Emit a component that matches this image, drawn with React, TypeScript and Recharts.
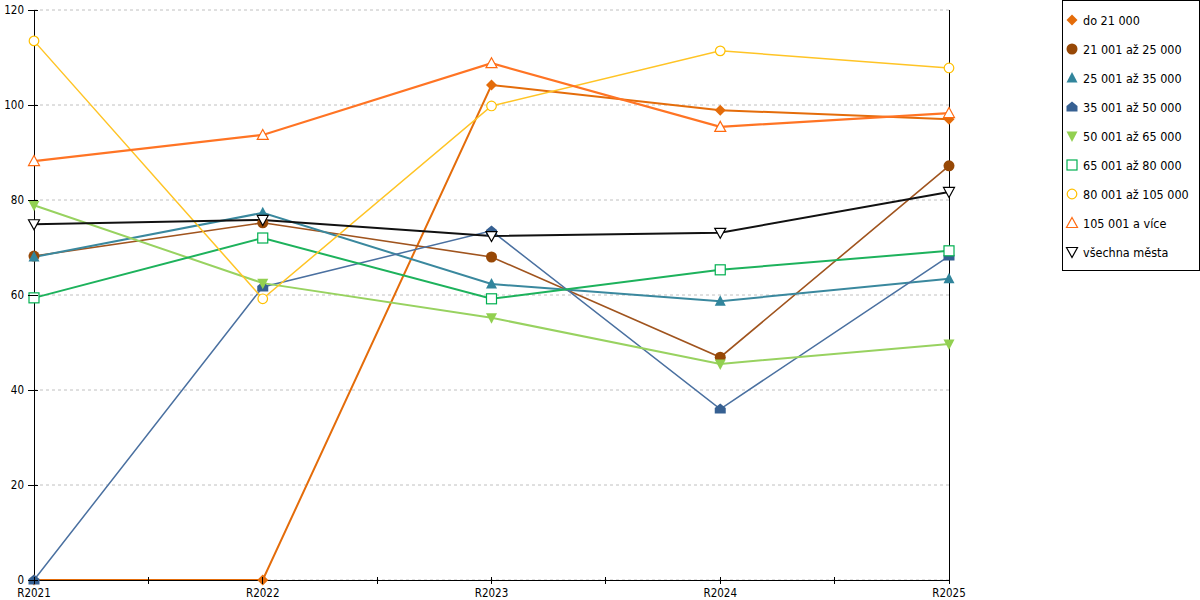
import React from 'react';
import { LineChart, Line, XAxis, YAxis, CartesianGrid } from 'recharts';

const categories = ['R2021', 'R2022', 'R2023', 'R2024', 'R2025'];
const yTicks = [0, 20, 40, 60, 80, 100, 120];

const do21 = [0, 0, 104.2, 98.9, 97.0];
const s21to25 = [68.2, 75.2, 68.0, 46.9, 87.2];
const s25to35 = [68.0, 77.3, 62.3, 58.7, 63.4];
const s35to50 = [0, 61.7, 73.5, 36.0, 68.2];
const s50to65 = [78.9, 62.5, 55.2, 45.5, 49.7];
const s65to80 = [59.4, 72.0, 59.2, 65.3, 69.3];
const s80to105 = [113.5, 59.2, 99.8, 111.4, 107.8];
const s105plus = [88.2, 93.7, 108.8, 95.4, 98.3];
const allCities = [74.9, 75.8, 72.4, 73.1, 81.7];

const seriesNames = [
  'do 21 000',
  '21 001 až 25 000',
  '25 001 až 35 000',
  '35 001 až 50 000',
  '50 001 až 65 000',
  '65 001 až 80 000',
  '80 001 až 105 000',
  '105 001 a více',
  'všechna města',
];
const seriesValues = [do21, s21to25, s25to35, s35to50, s50to65, s65to80, s80to105, s105plus, allCities];

type Shape = 'diamond' | 'circle' | 'triangle' | 'house' | 'down' | 'square' | 'ocircle' | 'otriangle' | 'odown';
const styles: { line: string; mark: string; shape: Shape; width: number }[] = [
  { line: '#E46C0A', mark: '#E46C0A', shape: 'diamond', width: 2 },
  { line: '#A0541E', mark: '#974806', shape: 'circle', width: 1.6 },
  { line: '#3A889E', mark: '#31859C', shape: 'triangle', width: 2 },
  { line: '#4A70A0', mark: '#366092', shape: 'house', width: 1.5 },
  { line: '#98D260', mark: '#92D050', shape: 'down', width: 2 },
  { line: '#1DB25C', mark: '#00B050', shape: 'square', width: 2 },
  { line: '#FFC425', mark: '#FFC000', shape: 'ocircle', width: 1.5 },
  { line: '#FF7424', mark: '#FF6A10', shape: 'otriangle', width: 2.2 },
  { line: '#111111', mark: '#000000', shape: 'odown', width: 2 },
];

const data = categories.map((c, i) => {
  const row: Record<string, number | string> = { idx: i, cat: c };
  seriesNames.forEach((n, k) => {
    row['s' + k] = seriesValues[k][i];
  });
  return row;
});

const xTicks = categories.flatMap((_, i) => (i < categories.length - 1 ? [i, i + 0.5] : [i]));

function Marker({ shape, color, cx, cy }: { shape: Shape; color: string; cx: number; cy: number }) {
  switch (shape) {
    case 'diamond':
      return <polygon points={`${cx},${cy - 5.5} ${cx + 5.5},${cy} ${cx},${cy + 5.5} ${cx - 5.5},${cy}`} fill={color} />;
    case 'circle':
      return <circle cx={cx} cy={cy} r={5.5} fill={color} />;
    case 'triangle':
      return <polygon points={`${cx},${cy - 6} ${cx + 5.5},${cy + 4.5} ${cx - 5.5},${cy + 4.5}`} fill={color} />;
    case 'house':
      return (
        <polygon
          points={`${cx},${cy - 5.5} ${cx + 5.5},${cy - 1} ${cx + 5.5},${cy + 4.5} ${cx - 5.5},${cy + 4.5} ${cx - 5.5},${cy - 1}`}
          fill={color}
        />
      );
    case 'down':
      return <polygon points={`${cx - 5.5},${cy - 4.5} ${cx + 5.5},${cy - 4.5} ${cx},${cy + 6}`} fill={color} />;
    case 'square':
      return <rect x={cx - 5} y={cy - 5} width={10} height={10} fill="#fff" stroke={color} strokeWidth={1.2} />;
    case 'ocircle':
      return <circle cx={cx} cy={cy} r={4.8} fill="#fff" stroke={color} strokeWidth={1.2} />;
    case 'otriangle':
      return (
        <polygon
          points={`${cx},${cy - 5.5} ${cx + 5.5},${cy + 4.5} ${cx - 5.5},${cy + 4.5}`}
          fill="#fff"
          stroke={color}
          strokeWidth={1.2}
        />
      );
    case 'odown':
      return (
        <polygon
          points={`${cx - 5.5},${cy - 4.5} ${cx + 5.5},${cy - 4.5} ${cx},${cy + 5.5}`}
          fill="#fff"
          stroke={color}
          strokeWidth={1.2}
        />
      );
  }
  return null;
}

const FONT = '"DejaVu Sans Condensed", "DejaVu Sans", Verdana, sans-serif';

function XTick(props: any) {
  const { x, y, payload } = props;
  const v = payload.value as number;
  const label = Number.isInteger(v) ? categories[v] : '';
  return (
    <g>
      <line x1={x} x2={x} y1={y - 3} y2={y + 4} stroke="#000" strokeWidth={1} shapeRendering="crispEdges" />
      {label && (
        <text x={x} y={y + 17} textAnchor="middle" fontSize={11.5} fontFamily={FONT} fontStretch="condensed" fill="#000">
          {label}
        </text>
      )}
    </g>
  );
}

function YTick(props: any) {
  const { x, y, payload } = props;
  return (
    <g>
      <line x1={x - 6} x2={x + 4} y1={y} y2={y} stroke="#000" strokeWidth={1} shapeRendering="crispEdges" />
      <text x={x - 10} y={y + 4} textAnchor="end" fontSize={11.5} fontFamily={FONT} fontStretch="condensed" fill="#000">
        {payload.value}
      </text>
    </g>
  );
}

function LegendBox() {
  return (
    <div
      style={{
        position: 'absolute',
        left: 1062,
        top: 0,
        width: 136,
        height: 269,
        border: '1px solid #000',
        background: '#fff',
        fontFamily: FONT,
        fontStretch: 'condensed',
        fontSize: 12.5,
        color: '#000',
      }}
    >
      {seriesNames.map((n, k) => (
        <div
          key={n}
          style={{ position: 'absolute', left: 0, top: 19 + k * 29 - 10, height: 20, display: 'flex', alignItems: 'center' }}
        >
          <svg width={20} height={20}>
            <Marker shape={styles[k].shape} color={styles[k].mark} cx={9} cy={10} />
          </svg>
          <span style={{ whiteSpace: 'nowrap' }}>{n}</span>
        </div>
      ))}
    </div>
  );
}

export default function App() {
  return (
    <div style={{ position: 'absolute', left: 0, top: 0, width: 1200, height: 600, background: '#fff' }}>
      <LineChart width={1200} height={600} data={data} margin={{ top: 10, right: 250, bottom: 0, left: 0 }}>
        <CartesianGrid vertical={false} strokeDasharray="3 3" stroke="#c0c0c0" />
        <XAxis
          type="number"
          dataKey="idx"
          domain={[0, categories.length - 1]}
          ticks={xTicks}
          interval={0}
          tickLine={false}
          tickSize={0}
          tickMargin={0}
          height={20}
          axisLine={{ stroke: '#000', shapeRendering: 'crispEdges' }}
          tick={<XTick />}
        />
        <YAxis
          domain={[0, 120]}
          ticks={yTicks}
          width={34}
          tickSize={0}
          tickMargin={0}
          axisLine={{ stroke: '#000', shapeRendering: 'crispEdges' }}
          tickLine={false}
          tick={<YTick />}
          interval={0}
        />
        <YAxis
          yAxisId="right"
          orientation="right"
          domain={[0, 120]}
          width={1}
          tick={false}
          tickLine={false}
          axisLine={{ stroke: '#000', strokeWidth: 1, shapeRendering: 'crispEdges' }}
        />
        {seriesNames.map((n, k) => (
          <Line
            key={n}
            type="linear"
            dataKey={'s' + k}
            name={n}
            stroke={styles[k].line}
            strokeWidth={styles[k].width}
            isAnimationActive={false}
            dot={(p: any) => (
              <Marker key={n + p.index} shape={styles[k].shape} color={styles[k].mark} cx={p.cx} cy={p.cy} />
            )}
            activeDot={false}
          />
        ))}
      </LineChart>
      <LegendBox />
    </div>
  );
}
